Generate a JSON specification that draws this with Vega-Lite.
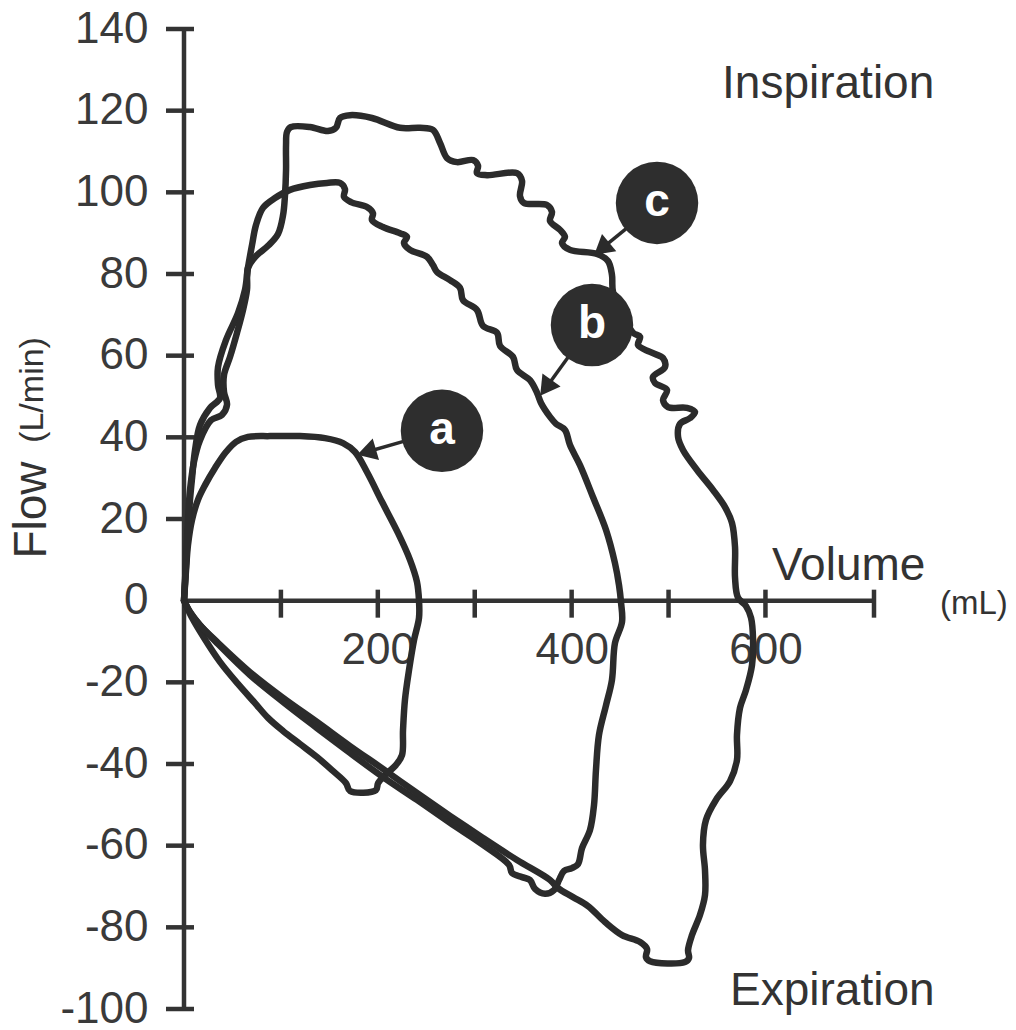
{
 "$schema": "https://vega.github.io/schema/vega-lite/v6.json",
 "width": 690,
 "height": 980,
 "autosize": "none",
 "padding": {"left": 184, "top": 29, "right": 142, "bottom": 21},
 "background": "white",
 "config": {"view": {"stroke": null}, "font": "Liberation Sans"},
 "datasets": {
  "axislines": [
   {"v": 0, "f": -100, "v2": 0, "f2": 140},
   {"v": 0, "f": 0, "v2": 712, "f2": 0}
  ],
  "yticks": [
   {"v": 0, "f": -100}, {"v": 0, "f": -80}, {"v": 0, "f": -60}, {"v": 0, "f": -40}, {"v": 0, "f": -20},
   {"v": 0, "f": 20}, {"v": 0, "f": 40}, {"v": 0, "f": 60}, {"v": 0, "f": 80}, {"v": 0, "f": 100},
   {"v": 0, "f": 120}, {"v": 0, "f": 140}
  ],
  "xticks": [
   {"v": 100, "f": 0}, {"v": 200, "f": 0}, {"v": 300, "f": 0}, {"v": 400, "f": 0},
   {"v": 500, "f": 0}, {"v": 600, "f": 0}, {"v": 712, "f": 0}
  ],
  "curves": [
   {"loop": "a", "i": 1, "v": 0, "f": 0},
   {"loop": "a", "i": 2, "v": 2.1, "f": 7.5},
   {"loop": "a", "i": 3, "v": 4.1, "f": 13.6},
   {"loop": "a", "i": 4, "v": 8.3, "f": 19.8},
   {"loop": "a", "i": 5, "v": 14.4, "f": 24.7},
   {"loop": "a", "i": 6, "v": 21.7, "f": 28.3},
   {"loop": "a", "i": 7, "v": 32.0, "f": 32.5},
   {"loop": "a", "i": 8, "v": 43.3, "f": 36.4},
   {"loop": "a", "i": 9, "v": 53.7, "f": 38.9},
   {"loop": "a", "i": 10, "v": 66.0, "f": 40.1},
   {"loop": "a", "i": 11, "v": 88.7, "f": 40.3},
   {"loop": "a", "i": 12, "v": 119.7, "f": 40.3},
   {"loop": "a", "i": 13, "v": 145.5, "f": 39.8},
   {"loop": "a", "i": 14, "v": 164.1, "f": 38.6},
   {"loop": "a", "i": 15, "v": 176.5, "f": 36.4},
   {"loop": "a", "i": 16, "v": 188.8, "f": 31.5},
   {"loop": "a", "i": 17, "v": 204.3, "f": 24.2},
   {"loop": "a", "i": 18, "v": 220.8, "f": 16.6},
   {"loop": "a", "i": 19, "v": 233.2, "f": 10.0},
   {"loop": "a", "i": 20, "v": 240.4, "f": 4.6},
   {"loop": "a", "i": 21, "v": 242.5, "f": 0},
   {"loop": "a", "i": 22, "v": 242.5, "f": -4.2},
   {"loop": "a", "i": 23, "v": 237.4, "f": -9.6},
   {"loop": "a", "i": 24, "v": 232.2, "f": -17.0},
   {"loop": "a", "i": 25, "v": 228.0, "f": -24.3},
   {"loop": "a", "i": 26, "v": 226.0, "f": -31.7},
   {"loop": "a", "i": 27, "v": 225.0, "f": -37.8},
   {"loop": "a", "i": 28, "v": 218.8, "f": -40.2},
   {"loop": "a", "i": 29, "v": 207.4, "f": -42.7},
   {"loop": "a", "i": 30, "v": 200.2, "f": -44.7},
   {"loop": "a", "i": 31, "v": 198.1, "f": -46.4},
   {"loop": "a", "i": 32, "v": 171.3, "f": -46.6},
   {"loop": "a", "i": 33, "v": 167.2, "f": -44.7},
   {"loop": "a", "i": 34, "v": 152.7, "f": -41.5},
   {"loop": "a", "i": 35, "v": 137.2, "f": -38.3},
   {"loop": "a", "i": 36, "v": 119.7, "f": -35.1},
   {"loop": "a", "i": 37, "v": 102.2, "f": -31.9},
   {"loop": "a", "i": 38, "v": 86.7, "f": -28.7},
   {"loop": "a", "i": 39, "v": 73.3, "f": -25.1},
   {"loop": "a", "i": 40, "v": 55.7, "f": -20.4},
   {"loop": "a", "i": 41, "v": 37.1, "f": -15.0},
   {"loop": "a", "i": 42, "v": 20.6, "f": -9.1},
   {"loop": "a", "i": 43, "v": 8.3, "f": -4.2},
   {"loop": "a", "i": 44, "v": 0, "f": 0},
   {"loop": "b", "i": 1, "v": 0, "f": 0},
   {"loop": "b", "i": 2, "v": 2.1, "f": 8.7},
   {"loop": "b", "i": 3, "v": 4.1, "f": 17.3},
   {"loop": "b", "i": 4, "v": 6.2, "f": 24.7},
   {"loop": "b", "i": 5, "v": 8.3, "f": 30.0},
   {"loop": "b", "i": 6, "v": 11.4, "f": 36.9},
   {"loop": "b", "i": 7, "v": 16.5, "f": 43.0},
   {"loop": "b", "i": 8, "v": 26.8, "f": 47.2},
   {"loop": "b", "i": 9, "v": 37.1, "f": 49.6},
   {"loop": "b", "i": 10, "v": 35.1, "f": 52.8},
   {"loop": "b", "i": 11, "v": 35.1, "f": 57.2},
   {"loop": "b", "i": 12, "v": 43.3, "f": 63.8},
   {"loop": "b", "i": 13, "v": 55.7, "f": 70.4},
   {"loop": "b", "i": 14, "v": 62.9, "f": 76.1},
   {"loop": "b", "i": 15, "v": 66.0, "f": 81.5},
   {"loop": "b", "i": 16, "v": 70.2, "f": 87.1},
   {"loop": "b", "i": 17, "v": 74.3, "f": 92.0},
   {"loop": "b", "i": 18, "v": 81.5, "f": 96.2},
   {"loop": "b", "i": 19, "v": 93.9, "f": 98.6},
   {"loop": "b", "i": 20, "v": 109.4, "f": 100.6},
   {"loop": "b", "i": 21, "v": 130.0, "f": 101.8},
   {"loop": "b", "i": 22, "v": 147.6, "f": 102.3},
   {"loop": "b", "i": 23, "v": 161.0, "f": 102.3},
   {"loop": "b", "i": 24, "v": 166.1, "f": 100.8},
   {"loop": "b", "i": 25, "v": 165.1, "f": 98.9},
   {"loop": "b", "i": 26, "v": 172.3, "f": 97.6},
   {"loop": "b", "i": 27, "v": 188.8, "f": 96.4},
   {"loop": "b", "i": 28, "v": 195.0, "f": 94.9},
   {"loop": "b", "i": 29, "v": 194.0, "f": 93.2},
   {"loop": "b", "i": 30, "v": 205.3, "f": 91.5},
   {"loop": "b", "i": 31, "v": 222.9, "f": 90.0},
   {"loop": "b", "i": 32, "v": 230.1, "f": 89.1},
   {"loop": "b", "i": 33, "v": 227.0, "f": 87.6},
   {"loop": "b", "i": 34, "v": 233.2, "f": 85.9},
   {"loop": "b", "i": 35, "v": 250.8, "f": 84.2},
   {"loop": "b", "i": 36, "v": 256.9, "f": 82.2},
   {"loop": "b", "i": 37, "v": 261.1, "f": 80.5},
   {"loop": "b", "i": 38, "v": 274.5, "f": 78.5},
   {"loop": "b", "i": 39, "v": 284.8, "f": 76.6},
   {"loop": "b", "i": 40, "v": 287.9, "f": 73.6},
   {"loop": "b", "i": 41, "v": 302.3, "f": 71.2},
   {"loop": "b", "i": 42, "v": 308.5, "f": 67.3},
   {"loop": "b", "i": 43, "v": 323.0, "f": 65.6},
   {"loop": "b", "i": 44, "v": 326.1, "f": 62.4},
   {"loop": "b", "i": 45, "v": 339.5, "f": 59.7},
   {"loop": "b", "i": 46, "v": 343.6, "f": 56.5},
   {"loop": "b", "i": 47, "v": 357.0, "f": 54.0},
   {"loop": "b", "i": 48, "v": 364.3, "f": 50.9},
   {"loop": "b", "i": 49, "v": 368.4, "f": 48.4},
   {"loop": "b", "i": 50, "v": 377.7, "f": 45.0},
   {"loop": "b", "i": 51, "v": 383.9, "f": 43.3},
   {"loop": "b", "i": 52, "v": 393.1, "f": 41.8},
   {"loop": "b", "i": 53, "v": 398.3, "f": 38.1},
   {"loop": "b", "i": 54, "v": 408.6, "f": 33.2},
   {"loop": "b", "i": 55, "v": 422.0, "f": 25.4},
   {"loop": "b", "i": 56, "v": 435.5, "f": 17.3},
   {"loop": "b", "i": 57, "v": 444.7, "f": 9.2},
   {"loop": "b", "i": 58, "v": 448.9, "f": 3.8},
   {"loop": "b", "i": 59, "v": 450.9, "f": -0.3},
   {"loop": "b", "i": 60, "v": 452.0, "f": -5.2},
   {"loop": "b", "i": 61, "v": 444.7, "f": -10.4},
   {"loop": "b", "i": 62, "v": 441.6, "f": -19.4},
   {"loop": "b", "i": 63, "v": 435.5, "f": -25.6},
   {"loop": "b", "i": 64, "v": 428.2, "f": -32.9},
   {"loop": "b", "i": 65, "v": 425.1, "f": -41.5},
   {"loop": "b", "i": 66, "v": 423.1, "f": -50.0},
   {"loop": "b", "i": 67, "v": 418.9, "f": -56.2},
   {"loop": "b", "i": 68, "v": 410.7, "f": -60.6},
   {"loop": "b", "i": 69, "v": 406.6, "f": -64.5},
   {"loop": "b", "i": 70, "v": 400.4, "f": -65.5},
   {"loop": "b", "i": 71, "v": 392.1, "f": -66.2},
   {"loop": "b", "i": 72, "v": 387.0, "f": -68.4},
   {"loop": "b", "i": 73, "v": 381.8, "f": -70.9},
   {"loop": "b", "i": 74, "v": 372.5, "f": -71.8},
   {"loop": "b", "i": 75, "v": 362.2, "f": -70.6},
   {"loop": "b", "i": 76, "v": 357.0, "f": -68.4},
   {"loop": "b", "i": 77, "v": 348.8, "f": -67.7},
   {"loop": "b", "i": 78, "v": 338.5, "f": -66.7},
   {"loop": "b", "i": 79, "v": 335.4, "f": -64.7},
   {"loop": "b", "i": 80, "v": 308.5, "f": -59.8},
   {"loop": "b", "i": 81, "v": 274.5, "f": -54.4},
   {"loop": "b", "i": 82, "v": 240.4, "f": -48.8},
   {"loop": "b", "i": 83, "v": 205.3, "f": -43.2},
   {"loop": "b", "i": 84, "v": 171.3, "f": -37.3},
   {"loop": "b", "i": 85, "v": 137.2, "f": -31.2},
   {"loop": "b", "i": 86, "v": 102.2, "f": -24.8},
   {"loop": "b", "i": 87, "v": 68.1, "f": -18.2},
   {"loop": "b", "i": 88, "v": 35.1, "f": -10.6},
   {"loop": "b", "i": 89, "v": 16.5, "f": -6.0},
   {"loop": "b", "i": 90, "v": 6.2, "f": -2.8},
   {"loop": "b", "i": 91, "v": 0, "f": 0},
   {"loop": "c", "i": 1, "v": 0, "f": 0},
   {"loop": "c", "i": 2, "v": 2.1, "f": 10.0},
   {"loop": "c", "i": 3, "v": 4.1, "f": 19.8},
   {"loop": "c", "i": 4, "v": 6.2, "f": 27.1},
   {"loop": "c", "i": 5, "v": 10.3, "f": 34.0},
   {"loop": "c", "i": 6, "v": 16.5, "f": 39.3},
   {"loop": "c", "i": 7, "v": 27.9, "f": 44.2},
   {"loop": "c", "i": 8, "v": 39.2, "f": 45.5},
   {"loop": "c", "i": 9, "v": 44.4, "f": 48.0},
   {"loop": "c", "i": 10, "v": 41.3, "f": 51.1},
   {"loop": "c", "i": 11, "v": 41.3, "f": 55.3},
   {"loop": "c", "i": 12, "v": 47.5, "f": 59.7},
   {"loop": "c", "i": 13, "v": 54.7, "f": 65.6},
   {"loop": "c", "i": 14, "v": 60.9, "f": 71.2},
   {"loop": "c", "i": 15, "v": 65.0, "f": 76.1},
   {"loop": "c", "i": 16, "v": 66.0, "f": 81.5},
   {"loop": "c", "i": 17, "v": 74.3, "f": 84.4},
   {"loop": "c", "i": 18, "v": 86.7, "f": 86.9},
   {"loop": "c", "i": 19, "v": 97.0, "f": 89.8},
   {"loop": "c", "i": 20, "v": 102.2, "f": 94.4},
   {"loop": "c", "i": 21, "v": 104.2, "f": 99.3},
   {"loop": "c", "i": 22, "v": 105.3, "f": 105.5},
   {"loop": "c", "i": 23, "v": 105.3, "f": 111.6},
   {"loop": "c", "i": 24, "v": 106.3, "f": 114.8},
   {"loop": "c", "i": 25, "v": 110.4, "f": 116.0},
   {"loop": "c", "i": 26, "v": 130.0, "f": 116.0},
   {"loop": "c", "i": 27, "v": 148.6, "f": 115.0},
   {"loop": "c", "i": 28, "v": 156.8, "f": 115.8},
   {"loop": "c", "i": 29, "v": 161.0, "f": 118.2},
   {"loop": "c", "i": 30, "v": 171.3, "f": 118.9},
   {"loop": "c", "i": 31, "v": 194.0, "f": 118.2},
   {"loop": "c", "i": 32, "v": 222.9, "f": 115.8},
   {"loop": "c", "i": 33, "v": 243.5, "f": 115.8},
   {"loop": "c", "i": 34, "v": 256.9, "f": 115.3},
   {"loop": "c", "i": 35, "v": 264.2, "f": 112.1},
   {"loop": "c", "i": 36, "v": 271.4, "f": 108.4},
   {"loop": "c", "i": 37, "v": 281.7, "f": 107.4},
   {"loop": "c", "i": 38, "v": 298.2, "f": 107.9},
   {"loop": "c", "i": 39, "v": 303.4, "f": 106.5},
   {"loop": "c", "i": 40, "v": 302.3, "f": 104.7},
   {"loop": "c", "i": 41, "v": 312.7, "f": 104.2},
   {"loop": "c", "i": 42, "v": 343.6, "f": 104.7},
   {"loop": "c", "i": 43, "v": 348.8, "f": 102.8},
   {"loop": "c", "i": 44, "v": 346.7, "f": 99.1},
   {"loop": "c", "i": 45, "v": 350.8, "f": 97.4},
   {"loop": "c", "i": 46, "v": 374.6, "f": 96.9},
   {"loop": "c", "i": 47, "v": 379.7, "f": 95.2},
   {"loop": "c", "i": 48, "v": 377.7, "f": 93.0},
   {"loop": "c", "i": 49, "v": 388.0, "f": 90.8},
   {"loop": "c", "i": 50, "v": 393.1, "f": 89.1},
   {"loop": "c", "i": 51, "v": 390.1, "f": 87.6},
   {"loop": "c", "i": 52, "v": 398.3, "f": 85.9},
   {"loop": "c", "i": 53, "v": 426.2, "f": 84.9},
   {"loop": "c", "i": 54, "v": 437.5, "f": 83.2},
   {"loop": "c", "i": 55, "v": 441.6, "f": 79.8},
   {"loop": "c", "i": 56, "v": 442.7, "f": 75.6},
   {"loop": "c", "i": 57, "v": 452.0, "f": 70.7},
   {"loop": "c", "i": 58, "v": 463.3, "f": 65.6},
   {"loop": "c", "i": 59, "v": 470.6, "f": 64.6},
   {"loop": "c", "i": 60, "v": 468.5, "f": 62.6},
   {"loop": "c", "i": 61, "v": 480.9, "f": 60.9},
   {"loop": "c", "i": 62, "v": 494.3, "f": 59.4},
   {"loop": "c", "i": 63, "v": 496.3, "f": 57.2},
   {"loop": "c", "i": 64, "v": 483.9, "f": 54.8},
   {"loop": "c", "i": 65, "v": 486.0, "f": 53.3},
   {"loop": "c", "i": 66, "v": 498.4, "f": 51.6},
   {"loop": "c", "i": 67, "v": 494.3, "f": 49.1},
   {"loop": "c", "i": 68, "v": 499.4, "f": 47.4},
   {"loop": "c", "i": 69, "v": 519.0, "f": 47.2},
   {"loop": "c", "i": 70, "v": 527.3, "f": 46.2},
   {"loop": "c", "i": 71, "v": 522.1, "f": 44.7},
   {"loop": "c", "i": 72, "v": 511.8, "f": 43.3},
   {"loop": "c", "i": 73, "v": 509.8, "f": 40.1},
   {"loop": "c", "i": 74, "v": 514.9, "f": 36.9},
   {"loop": "c", "i": 75, "v": 529.4, "f": 32.0},
   {"loop": "c", "i": 76, "v": 545.9, "f": 27.1},
   {"loop": "c", "i": 77, "v": 558.3, "f": 22.9},
   {"loop": "c", "i": 78, "v": 565.5, "f": 19.0},
   {"loop": "c", "i": 79, "v": 568.6, "f": 13.1},
   {"loop": "c", "i": 80, "v": 568.6, "f": 5.6},
   {"loop": "c", "i": 81, "v": 571.7, "f": 0.7},
   {"loop": "c", "i": 82, "v": 579.9, "f": -1.3},
   {"loop": "c", "i": 83, "v": 585.1, "f": -4.2},
   {"loop": "c", "i": 84, "v": 587.2, "f": -9.6},
   {"loop": "c", "i": 85, "v": 586.1, "f": -15.8},
   {"loop": "c", "i": 86, "v": 579.9, "f": -21.9},
   {"loop": "c", "i": 87, "v": 573.7, "f": -26.3},
   {"loop": "c", "i": 88, "v": 570.6, "f": -32.9},
   {"loop": "c", "i": 89, "v": 570.6, "f": -39.0},
   {"loop": "c", "i": 90, "v": 563.4, "f": -44.2},
   {"loop": "c", "i": 91, "v": 548.9, "f": -48.8},
   {"loop": "c", "i": 92, "v": 538.6, "f": -53.7},
   {"loop": "c", "i": 93, "v": 535.5, "f": -59.8},
   {"loop": "c", "i": 94, "v": 537.6, "f": -66.0},
   {"loop": "c", "i": 95, "v": 537.6, "f": -72.1},
   {"loop": "c", "i": 96, "v": 532.4, "f": -77.0},
   {"loop": "c", "i": 97, "v": 524.2, "f": -81.9},
   {"loop": "c", "i": 98, "v": 520.1, "f": -85.6},
   {"loop": "c", "i": 99, "v": 521.1, "f": -87.5},
   {"loop": "c", "i": 100, "v": 517.0, "f": -88.5},
   {"loop": "c", "i": 101, "v": 480.9, "f": -88.3},
   {"loop": "c", "i": 102, "v": 476.7, "f": -87.3},
   {"loop": "c", "i": 103, "v": 477.8, "f": -85.3},
   {"loop": "c", "i": 104, "v": 470.6, "f": -83.6},
   {"loop": "c", "i": 105, "v": 452.0, "f": -81.9},
   {"loop": "c", "i": 106, "v": 434.4, "f": -78.7},
   {"loop": "c", "i": 107, "v": 416.9, "f": -74.8},
   {"loop": "c", "i": 108, "v": 401.4, "f": -72.6},
   {"loop": "c", "i": 109, "v": 385.9, "f": -70.4},
   {"loop": "c", "i": 110, "v": 377.7, "f": -68.4},
   {"loop": "c", "i": 111, "v": 343.6, "f": -63.5},
   {"loop": "c", "i": 112, "v": 308.5, "f": -58.1},
   {"loop": "c", "i": 113, "v": 274.5, "f": -52.7},
   {"loop": "c", "i": 114, "v": 240.4, "f": -47.1},
   {"loop": "c", "i": 115, "v": 205.3, "f": -41.2},
   {"loop": "c", "i": 116, "v": 171.3, "f": -35.6},
   {"loop": "c", "i": 117, "v": 137.2, "f": -29.7},
   {"loop": "c", "i": 118, "v": 102.2, "f": -23.8},
   {"loop": "c", "i": 119, "v": 68.1, "f": -17.5},
   {"loop": "c", "i": 120, "v": 34.1, "f": -10.1},
   {"loop": "c", "i": 121, "v": 16.5, "f": -6.0},
   {"loop": "c", "i": 122, "v": 6.2, "f": -2.8},
   {"loop": "c", "i": 123, "v": 0, "f": 0}
  ],
  "arrows": [
   {"v": 226.6, "f": 39.0, "v2": 188.4, "f2": 36.4},
   {"v": 396.9, "f": 59.8, "v2": 373.4, "f2": 52.1},
   {"v": 456.3, "f": 91.1, "v2": 431.0, "f2": 86.2}
  ],
  "heads": [
   {"v": 188.4, "f": 36.4, "ang": 253.6},
   {"v": 373.4, "f": 52.1, "ang": 215.8},
   {"v": 431.0, "f": 86.2, "ang": 230.4}
  ],
  "badges": [
   {"v": 266.2, "f": 41.6, "lbl": "a"},
   {"v": 421.0, "f": 67.5, "lbl": "b"},
   {"v": 488.1, "f": 97.4, "lbl": "c"}
  ],
  "words": [
   {"v": 555.2, "f": 123.1, "t": "Inspiration"},
   {"v": 563.4, "f": -99.0, "t": "Expiration"},
   {"v": 606.7, "f": 5.1, "t": "Volume"}
  ],
  "unitx": [{"v": 780.1, "f": -3.3, "t": "(mL)"}],
  "flowword": [{"v": -156.8, "f": 22.2, "t": "Flow"}],
  "unity": [{"v": -155.8, "f": 51.6, "t": "(L/min)"}]
 },
 "encoding": {
  "x": {
   "field": "v", "type": "quantitative",
   "scale": {"domain": [0, 712], "nice": false, "zero": false},
   "axis": {
    "orient": "bottom", "offset": -408.33, "values": [200, 400, 600],
    "domain": false, "ticks": false, "tickSize": 0, "grid": false, "title": null,
    "labelFont": "Liberation Sans", "labelFontSize": 44, "labelColor": "#3a3a3a",
    "labelPadding": 28, "labelFlush": false, "labelOverlap": false
   }
  },
  "y": {
   "field": "f", "type": "quantitative",
   "scale": {"domain": [-100, 140], "nice": false, "zero": false},
   "axis": {
    "orient": "left", "values": [-100, -80, -60, -40, -20, 0, 20, 40, 60, 80, 100, 120, 140],
    "domain": false, "ticks": false, "tickSize": 0, "grid": false, "title": null,
    "labelFont": "Liberation Sans", "labelFontSize": 44, "labelColor": "#3a3a3a",
    "labelPadding": 36, "labelFlush": false, "labelOverlap": false,
    "labelExpr": "datum.value < 0 ? '-' + abs(datum.value) : '' + datum.value"
   }
  }
 },
 "layer": [
  {
   "data": {"name": "axislines"},
   "mark": {"type": "rule", "strokeWidth": 4.5, "color": "#333333"},
   "encoding": {"x2": {"field": "v2"}, "y2": {"field": "f2"}}
  },
  {
   "data": {"name": "yticks"},
   "mark": {"type": "tick", "orient": "horizontal", "size": 28, "thickness": 4.5, "color": "#333333", "xOffset": -4, "opacity": 1}
  },
  {
   "data": {"name": "xticks"},
   "mark": {"type": "tick", "orient": "vertical", "size": 28, "thickness": 4.5, "color": "#333333", "yOffset": 3, "opacity": 1}
  },
  {
   "data": {"name": "curves"},
   "mark": {"type": "line", "strokeWidth": 6.5, "color": "#2b2b2b", "strokeCap": "round", "strokeJoin": "round", "interpolate": "catmull-rom"},
   "encoding": {
    "detail": {"field": "loop", "type": "nominal"},
    "order": {"field": "i", "type": "quantitative"}
   }
  },
  {
   "data": {"name": "arrows"},
   "mark": {"type": "rule", "strokeWidth": 3.5, "color": "#2b2b2b"},
   "encoding": {"x2": {"field": "v2"}, "y2": {"field": "f2"}}
  },
  {
   "data": {"name": "heads"},
   "mark": {"type": "point", "shape": "triangle-up", "filled": true, "size": 500, "color": "#2b2b2b", "opacity": 1},
   "encoding": {"angle": {"field": "ang", "type": "quantitative", "scale": null}}
  },
  {
   "data": {"name": "badges"},
   "mark": {"type": "point", "shape": "circle", "filled": true, "size": 6800, "color": "#2e2e2e", "opacity": 1},
   "encoding": {}
  },
  {
   "data": {"name": "badges"},
   "mark": {"type": "text", "color": "white", "fontSize": 46, "fontWeight": "bold", "font": "Liberation Sans", "align": "center", "baseline": "middle", "dy": -1},
   "encoding": {"text": {"field": "lbl"}}
  },
  {
   "data": {"name": "words"},
   "mark": {"type": "text", "color": "#333333", "fontSize": 46, "font": "Liberation Sans", "align": "left", "baseline": "alphabetic"},
   "encoding": {"text": {"field": "t"}}
  },
  {
   "data": {"name": "unitx"},
   "mark": {"type": "text", "color": "#333333", "fontSize": 33, "font": "Liberation Sans", "align": "left", "baseline": "alphabetic"},
   "encoding": {"text": {"field": "t"}}
  },
  {
   "data": {"name": "flowword"},
   "mark": {"type": "text", "color": "#333333", "fontSize": 46, "font": "Liberation Sans", "align": "center", "baseline": "middle", "angle": 270},
   "encoding": {"text": {"field": "t"}}
  },
  {
   "data": {"name": "unity"},
   "mark": {"type": "text", "color": "#333333", "fontSize": 34, "font": "Liberation Sans", "align": "center", "baseline": "middle", "angle": 270},
   "encoding": {"text": {"field": "t"}}
  }
 ]
}
